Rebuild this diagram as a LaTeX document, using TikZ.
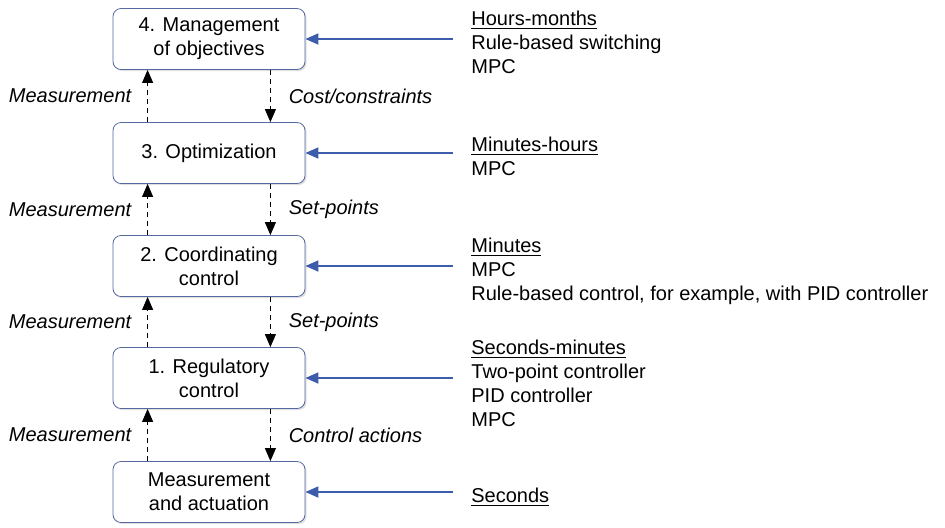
\documentclass[tikz,border=0pt]{standalone}
\usepackage{fontspec}
\setmainfont{Liberation Sans}
\usetikzlibrary{arrows.meta, shadows}

\definecolor{boxline}{RGB}{86,104,160}
\definecolor{feedblue}{RGB}{62,92,172}

\tikzset{
level/.style={draw=boxline, fill=white, rounded corners=4pt, minimum width=96pt, minimum height=30.5pt, align=center,
  drop shadow={opacity=0.25, shadow xshift=0.8pt, shadow yshift=-0.8pt}},
flow/.style={dash pattern=on 2.5pt off 2pt, -{Triangle[width=5.5pt,length=6.5pt]}},
feed/.style={feedblue, line width=0.9pt, -{Triangle[width=5.5pt,length=6.5pt]}},
info/.style={align=left, inner sep=0pt},
}

\begin{document}
\begin{tikzpicture}[x=0.5pt, y=-0.5pt]
\useasboundingbox (0,0) rectangle (945,527);
% levels
\node[level] (b4) at (209,39) {4. Management\\of objectives};
\node[level] (b3) at (209,153) {3. Optimization};
\node[level] (b2) at (209,266) {2. Coordinating\\control};
\node[level] (b1) at (209,378) {1. Regulatory\\control};
\node[level] (b0) at (209,492) {Measurement\\and actuation};
% measurement up, commands down
\draw[flow] ([xshift=17.5pt]b3.north west) -- ([xshift=17.5pt]b4.south west) node[midway, left=8pt, inner sep=0pt] {\itshape Measurement};
\draw[flow] ([xshift=17.5pt]b2.north west) -- ([xshift=17.5pt]b3.south west) node[midway, left=8pt, inner sep=0pt] {\itshape Measurement};
\draw[flow] ([xshift=17.5pt]b1.north west) -- ([xshift=17.5pt]b2.south west) node[midway, left=8pt, inner sep=0pt] {\itshape Measurement};
\draw[flow] ([xshift=17.5pt]b0.north west) -- ([xshift=17.5pt]b1.south west) node[midway, left=8pt, inner sep=0pt] {\itshape Measurement};
\draw[flow] ([xshift=-17.5pt]b4.south east) -- ([xshift=-17.5pt]b3.north east) node[midway, right=9pt, inner sep=0pt] {\itshape Cost/constraints};
\draw[flow] ([xshift=-17.5pt]b3.south east) -- ([xshift=-17.5pt]b2.north east) node[midway, right=9pt, inner sep=0pt] {\itshape Set-points};
\draw[flow] ([xshift=-17.5pt]b2.south east) -- ([xshift=-17.5pt]b1.north east) node[midway, right=9pt, inner sep=0pt] {\itshape Set-points};
\draw[flow] ([xshift=-17.5pt]b1.south east) -- ([xshift=-17.5pt]b0.north east) node[midway, right=9pt, inner sep=0pt] {\itshape Control actions};
% time scales and methods (base = last line)
\node[info, anchor=base west] (i4) at (471,73) {\underline{Hours-months}\\Rule-based switching\\MPC};
\node[info, anchor=base west] (i3) at (471,175) {\underline{Minutes-hours}\\MPC};
\node[info, anchor=base west] (i2) at (471,300) {\underline{Minutes}\\MPC\\Rule-based control, for example, with PID controller};
\node[info, anchor=base west] (i1) at (471,426) {\underline{Seconds-minutes}\\Two-point controller\\PID controller\\MPC};
\node[info, anchor=base west] (i0) at (471,502) {\underline{Seconds}};
\coordinate (t4) at (453,39);
\coordinate (t3) at (453,153);
\coordinate (t2) at (453,266);
\coordinate (t1) at (453,378);
\coordinate (t0) at (453,492);
\draw[feed] (t4) -- (b4);
\draw[feed] (t3) -- (b3);
\draw[feed] (t2) -- (b2);
\draw[feed] (t1) -- (b1);
\draw[feed] (t0) -- (b0);
\end{tikzpicture}
\end{document}
